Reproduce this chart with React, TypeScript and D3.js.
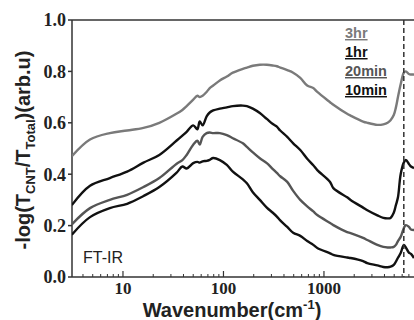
import React from "react";
import * as d3 from "d3";

// wavenumber grid (cm^-1) shared by all four spectra
const wavenumbers = [
  3.1, 4.7, 7.4, 11, 16, 23, 34, 39, 43, 50, 55, 58, 62, 68, 73, 79, 92, 108,
  124, 156, 171, 196, 230, 270, 310, 340, 367, 431, 494, 581, 681, 783, 858,
  1150, 1240, 1700, 1840, 2450, 2700, 3400, 3900, 4300, 4600, 4950, 5200,
  5450, 5800, 6230, 6530, 7000, 7340, 7870,
];

const hr3 = [
  0.47, 0.535, 0.56, 0.57, 0.58, 0.6, 0.635, 0.65, 0.665, 0.69, 0.705, 0.7,
  0.705, 0.72, 0.735, 0.745, 0.765, 0.78, 0.795, 0.81, 0.815, 0.822, 0.826,
  0.826, 0.823, 0.82, 0.815, 0.805, 0.795, 0.775, 0.745, 0.735, 0.72, 0.68,
  0.67, 0.635, 0.628, 0.605, 0.6, 0.592, 0.594, 0.6, 0.61, 0.63, 0.66, 0.7,
  0.75, 0.795, 0.8, 0.79, 0.788, 0.788,
];

const hr1 = [
  0.28, 0.355, 0.385, 0.41, 0.445, 0.475, 0.53, 0.55, 0.565, 0.59, 0.575,
  0.605, 0.59, 0.625, 0.64, 0.648, 0.655, 0.66, 0.665, 0.667, 0.665, 0.655,
  0.638, 0.615, 0.595, 0.585, 0.57, 0.545, 0.52, 0.494, 0.46, 0.435, 0.416,
  0.37, 0.346, 0.31, 0.3, 0.27, 0.26, 0.24, 0.23, 0.228, 0.23, 0.25, 0.28,
  0.31, 0.4, 0.445, 0.455, 0.44, 0.43, 0.424,
];

const min20 = [
  0.205, 0.268, 0.3, 0.32, 0.35, 0.385, 0.44, 0.455, 0.475, 0.515, 0.53,
  0.515, 0.545, 0.56, 0.562, 0.56, 0.56, 0.552, 0.54, 0.52, 0.506, 0.485,
  0.462, 0.443, 0.42, 0.405, 0.392, 0.37, 0.335, 0.3, 0.275, 0.255, 0.241,
  0.21, 0.202, 0.175, 0.171, 0.152, 0.144, 0.125, 0.117, 0.115, 0.115, 0.117,
  0.125, 0.14, 0.156, 0.19, 0.202, 0.195, 0.185, 0.183,
];

const min10 = [
  0.165, 0.233, 0.268, 0.285, 0.315, 0.35, 0.405, 0.43, 0.422, 0.443, 0.448,
  0.445, 0.45, 0.452, 0.456, 0.463, 0.455, 0.436, 0.41, 0.38, 0.365, 0.33,
  0.3, 0.27, 0.25, 0.235, 0.22, 0.195, 0.172, 0.16, 0.14, 0.125, 0.113,
  0.092, 0.086, 0.076, 0.074, 0.062, 0.054, 0.045, 0.039, 0.038, 0.04, 0.047,
  0.06, 0.075, 0.093, 0.125, 0.115, 0.095, 0.09, 0.074,
];

const seriesNames = ["3hr", "1hr", "20min", "10min"];
const seriesValues = [hr3, hr1, min20, min10];
const seriesColors = ["#7a7a7a", "#111111", "#555555", "#111111"];

const yTicks = [0, 0.2, 0.4, 0.6, 0.8, 1.0];
const xMajorTicks = [10, 100, 1000];
const markerWavenumber = 6230;

const W = 414;
const H = 320;
const margin = { top: 20, right: 0, bottom: 43, left: 72 };

export default function App() {
  const x = d3
    .scaleLog()
    .domain([3.11, 7870])
    .range([margin.left, W - margin.right]);
  const y = d3
    .scaleLinear()
    .domain([0, 1])
    .range([H - margin.bottom, margin.top]);

  const line = d3
    .line<number>()
    .x((_, i) => x(wavenumbers[i]))
    .y((d) => y(d))
    .curve(d3.curveCatmullRom.alpha(0.5));

  // minor log ticks 2..9 per decade, inside the domain
  const minorTicks: number[] = [];
  for (let p = 0; p <= 3; p++) {
    for (let k = 2; k <= 9; k++) {
      const v = k * Math.pow(10, p);
      if (v > 3.11 && v < 7870) minorTicks.push(v);
    }
  }

  const x0 = margin.left;
  const x1 = W - margin.right;
  const y0 = H - margin.bottom;
  const sans = "'Liberation Sans', Arial, sans-serif";
  const serif = "'Liberation Serif', 'Times New Roman', serif";

  return (
    <svg
      width={W}
      height={H}
      style={{ position: "absolute", left: 0, top: 0, background: "#fff" }}
    >
      <defs>
        <clipPath id="plot">
          <rect x={x0} y={margin.top} width={x1 - x0} height={y0 - margin.top} />
        </clipPath>
      </defs>

      {/* frame */}
      <line x1={x0} x2={x1} y1={margin.top} y2={margin.top} stroke="#333" strokeWidth={1.5} />
      <line x1={x0} x2={x0} y1={margin.top} y2={y0} stroke="#333" strokeWidth={1.5} />
      <line x1={x0} x2={x1} y1={y0} y2={y0} stroke="#333" strokeWidth={1.5} />

      {/* y ticks */}
      {yTicks.map((t) => (
        <g key={t}>
          <line x1={x0 - 4} x2={x0} y1={y(t)} y2={y(t)} stroke="#333" strokeWidth={1.5} />
          <text
            x={x0 - 6}
            y={y(t)}
            dy="0.35em"
            textAnchor="end"
            fontFamily={serif}
            fontWeight="bold"
            fontSize={18}
            fill="#222"
          >
            {t.toFixed(1)}
          </text>
        </g>
      ))}

      {/* x ticks */}
      {minorTicks.map((t) => (
        <line key={t} x1={x(t)} x2={x(t)} y1={y0} y2={y0 - 3} stroke="#333" strokeWidth={1} />
      ))}
      {xMajorTicks.map((t) => (
        <g key={t}>
          <line x1={x(t)} x2={x(t)} y1={y0} y2={y0 - 6} stroke="#333" strokeWidth={1.2} />
          <text
            x={x(t)}
            y={y0 + 17}
            textAnchor="middle"
            fontFamily={serif}
            fontWeight="bold"
            fontSize={17}
            fill="#222"
          >
            {t}
          </text>
        </g>
      ))}

      {/* spectra */}
      <g clipPath="url(#plot)">
        {seriesValues.map((vals, i) => (
          <path
            key={seriesNames[i]}
            d={line(vals) || ""}
            fill="none"
            stroke={seriesColors[i]}
            strokeWidth={2.4}
            strokeLinejoin="round"
          />
        ))}
      </g>

      {/* dashed marker */}
      <line
        x1={x(markerWavenumber)}
        x2={x(markerWavenumber)}
        y1={margin.top}
        y2={y0}
        stroke="#333"
        strokeWidth={1.5}
        strokeDasharray="5,3"
      />

      {/* legend */}
      {seriesNames.map((name, i) => (
        <text
          key={name}
          x={345}
          y={38 + i * 19}
          fontFamily={sans}
          fontWeight="bold"
          fontSize={14.5}
          fill={seriesColors[i]}
          textDecoration="underline"
        >
          {name}
        </text>
      ))}

      <text x={83} y={263} fontFamily={sans} fontSize={16} fill="#222">
        FT-IR
      </text>

      {/* axis titles */}
      <text
        x={232}
        y={317}
        textAnchor="middle"
        fontFamily={sans}
        fontWeight="bold"
        fontSize={20}
        fill="#222"
      >
        Wavenumber(cm
        <tspan fontSize={13} dy={-8}>-1</tspan>
        <tspan dy={8}>)</tspan>
      </text>
      <text
        transform={`translate(30,150) rotate(-90)`}
        textAnchor="middle"
        fontFamily={sans}
        fontWeight="bold"
        fontSize={20}
        fill="#222"
      >
        -log(T
        <tspan fontSize={13} dy={5}>CNT</tspan>
        <tspan dy={-5}>/T</tspan>
        <tspan fontSize={13} dy={5}>Total</tspan>
        <tspan dy={-5}>)(arb.u)</tspan>
      </text>
    </svg>
  );
}
